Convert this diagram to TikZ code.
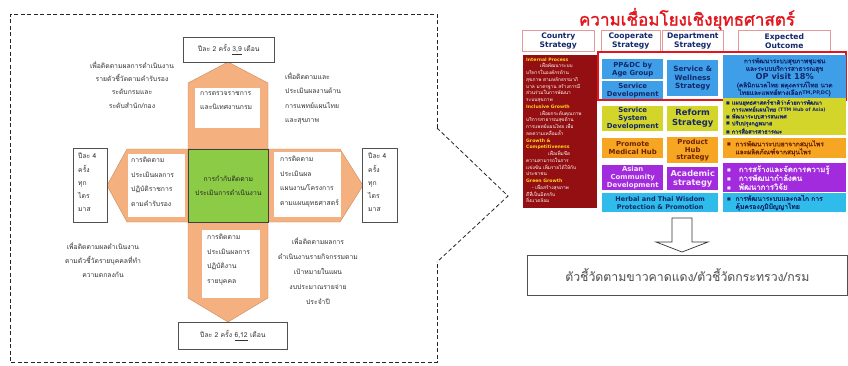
\documentclass[tikz,border=0pt]{standalone}
\usepackage{fontspec}
\newfontfamily\thai[Script=Thai, AutoFakeBold=1.6]{Loma}
\newfontfamily\lat{DejaVu Sans}
\newfontfamily\dejavu{DejaVu Sans}
\definecolor{orangefill}{HTML}{F5B07F}
\definecolor{orangeedge}{HTML}{C98B5E}
\definecolor{greenfill}{HTML}{8CCB45}
\definecolor{boxedge}{HTML}{505050}
\definecolor{hdredge}{HTML}{E39A9A}
\definecolor{darkred}{HTML}{940F12}
\definecolor{headyellow}{HTML}{FFD21F}
\definecolor{bluefill}{HTML}{3E9FE8}
\definecolor{limefill}{HTML}{D3D52A}
\definecolor{ambfill}{HTML}{F6A623}
\definecolor{purplefill}{HTML}{A22BDD}
\definecolor{cyanfill}{HTML}{2FBCEA}
\definecolor{navytext}{HTML}{13286B}
\definecolor{browntext}{HTML}{6E2200}
\definecolor{titlered}{HTML}{E3141B}
\newcommand{\bul}{{\dejavu\fontsize{4}{4}\selectfont\raisebox{0.4pt}{■}}}
\begin{document}
\begin{tikzpicture}[x=1pt,y=-1pt,
  dashline/.style={draw=black!85, line width=0.8pt, dash pattern=on 4pt off 2.5pt},
  orangeshape/.style={fill=orangefill, draw=orangeedge, line width=0.4pt},
  whitebox/.style={fill=white, draw=none, inner sep=0pt, anchor=north west},
  framebox/.style={fill=white, draw=boxedge, line width=0.7pt, inner sep=0pt, anchor=north west},
  thsmall/.style={font=\thai\fontsize{6.8}{14.5}\selectfont, text=black!80, inner sep=0pt},
  hdr/.style={fill=white, draw=hdredge, line width=0.6pt, inner sep=0pt, anchor=north west,
    align=center, text=navytext, font=\lat\bfseries\fontsize{7.6}{9}\selectfont},
  cell/.style={draw=none, inner sep=0pt, anchor=north west, align=center,
    font=\lat\bfseries\fontsize{6.9}{7.9}\selectfont},
  outc/.style={draw=none, inner sep=0pt, anchor=north west}
]
\useasboundingbox (0,0) rectangle (848,365);
\fill[white] (0,0) rectangle (848,365);

% ---------- left panel: dashed frame ----------
\coordinate (frameTR) at (437,128);
\coordinate (frameBR) at (437,262);
\coordinate (funnelTip) at (508,196);
\draw[dashline] (frameTR) -- (437,14) -- (10,14) -- (10,362) -- (437,362) -- (frameBR);
\draw[dashline] (frameTR) -- (funnelTip) -- (frameBR);

% ---------- orange arms ----------
\filldraw[orangeshape] (188,149) -- (188,83) -- (228,62) -- (268,83) -- (268,149) -- cycle;
\filldraw[orangeshape] (188,222) -- (188,298) -- (228,322) -- (268,298) -- (268,222) -- cycle;
\filldraw[orangeshape] (188,149) -- (127,149) -- (107,185.5) -- (127,222) -- (188,222) -- cycle;
\filldraw[orangeshape] (268,149) -- (340,149) -- (363,185.5) -- (340,222) -- (268,222) -- cycle;

% ---------- centre ----------
\node[fill=greenfill, draw=black!75, line width=0.7pt, minimum width=80pt, minimum height=73pt,
  inner sep=0pt, anchor=north west, align=center, font=\thai\fontsize{6.8}{14.5}\selectfont,
  text=black!85] (centre) at (188,149) {การกำกับติดตาม\\ประเมินการดำเนินงาน};

% ---------- white boxes inside the arms ----------
\node[whitebox, minimum width=65pt, minimum height=40pt] (armTop) at (195,88) {};
\node[thsmall, anchor=north west, align=left] at (200,91) {การตรวจราชการ\\และนิเทศงานกรม};
\node[whitebox, minimum width=57pt, minimum height=63pt] (armLeft) at (128,154) {};
\node[thsmall, anchor=north west, align=left] at (131,157) {การติดตาม\\ประเมินผลการ\\ปฏิบัติราชการ\\ตามคำรับรอง};
\node[whitebox, minimum width=67pt, minimum height=65pt] (armRight) at (274,152) {};
\node[thsmall, anchor=north west, align=left] at (280,156) {การติดตาม\\ประเมินผล\\แผนงาน/โครงการ\\ตามแผนยุทธศาสตร์};
\node[whitebox, minimum width=58pt, minimum height=68pt] (armBottom) at (202,230) {};
\node[thsmall, anchor=north west, align=left] at (207,234) {การติดตาม\\ประเมินผลการ\\ปฏิบัติงาน\\รายบุคคล};

% ---------- frequency boxes ----------
\node[framebox, minimum width=91pt, minimum height=25pt, font=\thai\fontsize{6.8}{8}\selectfont,
  text=black!80] (freqTop) at (183,37) {ปีละ 2 ครั้ง \underline{3,9} เดือน};
\node[framebox, minimum width=109pt, minimum height=27pt, font=\thai\fontsize{6.8}{8}\selectfont,
  text=black!80] (freqBottom) at (178,322) {ปีละ 2 ครั้ง \underline{6,12} เดือน};
\node[framebox, minimum width=34pt, minimum height=74pt] (freqLeft) at (73,148) {};
\node[thsmall, anchor=north west, align=left, font=\thai\fontsize{6.8}{13.2}\selectfont] at (78,153)
  {ปีละ 4\\ครั้ง\\ทุก\\ไตร\\มาส};
\node[framebox, minimum width=35pt, minimum height=74pt] (freqRight) at (362,148) {};
\node[thsmall, anchor=north west, align=left, font=\thai\fontsize{6.8}{13.2}\selectfont] at (368,153)
  {ปีละ 4\\ครั้ง\\ทุก\\ไตร\\มาส};

% ---------- purpose notes ----------
\node[thsmall, align=center, anchor=north, font=\thai\fontsize{6.8}{13.3}\selectfont] (noteTL) at (132,61)
  {เพื่อติดตามผลการดำเนินงาน\\รายตัวชี้วัดตามคำรับรอง\\ระดับกรมและ\\ระดับสำนัก/กอง};
\node[thsmall, align=left, anchor=north west] (noteTR) at (285,72)
  {เพื่อติดตามและ\\ประเมินผลงานด้าน\\การแพทย์แผนไทย\\และสุขภาพ};
\node[thsmall, align=center, anchor=north, font=\thai\fontsize{6.8}{14}\selectfont] (noteBL) at (103,242)
  {เพื่อติดตามผลดำเนินงาน\\ตามตัวชี้วัดรายบุคคลที่ทำ\\ความตกลงกัน};
\node[thsmall, align=center, anchor=north, font=\thai\fontsize{6.8}{15}\selectfont] (noteBR) at (318,237)
  {เพื่อติดตามผลการ\\ดำเนินงานรายกิจกรรมตาม\\เป้าหมายในแผน\\งบประมาณรายจ่าย\\ประจำปี};

% ---------- right panel ----------
\node[font=\thai\bfseries\fontsize{17}{18}\selectfont, text=titlered, inner sep=0pt] (title) at (687,19)
  {ความเชื่อมโยงเชิงยุทธศาสตร์};

\node[hdr, minimum width=72pt, minimum height=21pt] (hCountry) at (522,30) {Country\\Strategy};
\node[hdr, minimum width=59pt, minimum height=21pt] (hCoop) at (601,30) {Cooperate\\Strategy};
\node[hdr, minimum width=61pt, minimum height=21pt] (hDept) at (662,30) {Department\\Strategy};
\node[hdr, minimum width=92pt, minimum height=21pt] (hOut) at (738,30) {Expected\\Outcome};

% country strategy column
\node[fill=darkred, inner sep=0pt, anchor=north west, minimum width=74pt, minimum height=153pt] (country) at (523,55) {};
\node[anchor=north west, inner sep=0pt, align=left, text=white,
  font=\thai\fontsize{4.8}{6.75}\selectfont] at (526,57.5)
  {\textcolor{headyellow}{\lat\bfseries\fontsize{4.6}{6.75}\selectfont Internal Process}\\
   \hspace*{14pt}เพื่อพัฒนาระบบ\\
   บริหารในองค์กรด้าน\\
   สุขภาพ ตามหลักธรรมาภิ\\
   บาล มาตรฐาน สร้างการมี\\
   ส่วนร่วมในการพัฒนา\\
   ระบบสุขภาพ\\
   \textcolor{headyellow}{\lat\bfseries\fontsize{4.6}{6.75}\selectfont Inclusive Growth}\\
   \hspace*{14pt}เพื่อยกระดับคุณภาพ\\
   บริการสาธารณสุขด้าน\\
   การแพทย์แผนไทย เพื่อ\\
   ลดความเหลื่อมล้ำ\\
   \textcolor{headyellow}{\lat\bfseries\fontsize{4.6}{6.75}\selectfont Growth \&}\\
   \textcolor{headyellow}{\lat\bfseries\fontsize{4.6}{6.75}\selectfont Competitiveness}\\
   \hspace*{22pt}เพื่อเพิ่มขีด\\
   ความสามารถในการ\\
   แข่งขัน เพิ่มรายได้ให้กับ\\
   ประชาชน\\
   \textcolor{headyellow}{\lat\bfseries\fontsize{4.6}{6.75}\selectfont Green Growth}\\
   \hspace*{6pt}- เพื่อสร้างสุขภาพ\\
   ดีที่เป็นมิตรกับ\\
   สิ่งแวดล้อม};

% red frame around the first row
\draw[titlered, line width=1.4pt] (598,52) rectangle (846,100);

% row 1 (blue)
\node[cell, fill=bluefill, text=navytext, minimum width=61pt, minimum height=20pt] (ppdc) at (602,59) {PP\&DC by\\Age Group};
\node[cell, fill=bluefill, text=navytext, minimum width=61pt, minimum height=18pt] (servDev) at (602,81) {Service\\Development};
\node[cell, fill=bluefill, text=navytext, minimum width=51pt, minimum height=36pt,
  font=\lat\bfseries\fontsize{7.2}{8.6}\selectfont] (wellness) at (667,60) {Service \&\\Wellness\\Strategy};
\node[outc, fill=bluefill, minimum width=123pt, minimum height=43pt] (outBlue) at (723,55) {};
\node[align=center, text=navytext, inner sep=0pt, font=\thai\bfseries\fontsize{6.4}{7.6}\selectfont] at ([yshift=-0.5pt]outBlue.center)
  {การพัฒนาระบบสุขภาพชุมชน\\และระบบบริการสาธารณสุข\\{\lat\bfseries\fontsize{8.2}{9.4}\selectfont OP visit 18\%}\\(คลินิกนวดไทย ผดุงครรภ์ไทย นวด\\ไทยและแพทย์ทางเลือก{\lat\fontsize{5}{6}\selectfont TM,PP,DC})};

% row 2 (lime)
\node[cell, fill=limefill, text=navytext, minimum width=61pt, minimum height=25pt] (sysDev) at (602,106) {Service\\System\\Development};
\node[cell, fill=limefill, text=navytext, minimum width=51pt, minimum height=25pt,
  font=\lat\bfseries\fontsize{8.4}{10}\selectfont] (reform) at (667,106) {Reform\\Strategy};
\node[outc, fill=limefill, minimum width=123pt, minimum height=37pt] (outLime) at (723,98) {};
\node[anchor=west, align=left, text=navytext, inner sep=0pt, font=\thai\bfseries\fontsize{5.6}{6.9}\selectfont]
  at ([xshift=3pt]outLime.west)
  {\bul\ แผนยุทธศาสตร์ชาติว่าด้วยการพัฒนา\\\phantom{\bul}\ การแพทย์แผนไทย {\lat\fontsize{4.7}{6}\selectfont (TTM Hub of Asia)}\\\bul\ พัฒนาระบบสารสนเทศ\\\bul\ ปรับปรุงกฎหมาย\\\bul\ การสื่อสารสาธารณะ};

% row 3 (amber)
\node[cell, fill=ambfill, text=browntext, minimum width=61pt, minimum height=20pt] (medHub) at (602,138) {Promote\\Medical Hub};
\node[cell, fill=ambfill, text=browntext, minimum width=51pt, minimum height=26pt] (prodHub) at (667,137) {Product\\Hub\\strategy};
\node[outc, fill=ambfill, minimum width=123pt, minimum height=20pt] (outAmb) at (723,138) {};
\node[anchor=west, align=left, text=browntext, inner sep=0pt, font=\thai\bfseries\fontsize{6.6}{8}\selectfont]
  at ([xshift=4pt]outAmb.west)
  {\bul\ \ การพัฒนาระบบยาจากสมุนไพร\\\phantom{\bul}\ \ และผลิตภัณฑ์จากสมุนไพร};

% row 4 (purple)
\node[cell, fill=purplefill, text=white!88!purplefill, minimum width=61pt, minimum height=25pt] (asian) at (602,165) {Asian\\Community\\Development};
\node[cell, fill=purplefill, text=white!90!purplefill, minimum width=51pt, minimum height=23pt,
  font=\lat\bfseries\fontsize{8.2}{9.6}\selectfont] (academic) at (667,167) {Academic\\strategy};
\node[outc, fill=purplefill, minimum width=123pt, minimum height=29pt] (outPurple) at (723,163) {};
\node[anchor=west, align=left, text=white!90!purplefill, inner sep=0pt, font=\thai\bfseries\fontsize{7.8}{8.8}\selectfont]
  at ([xshift=4pt]outPurple.west)
  {\bul\ \ \ การสร้างและจัดการความรู้\\\bul\ \ \ การพัฒนากำลังคน\\\bul\ \ \ พัฒนาการวิจัย};

% row 5 (cyan)
\node[cell, fill=cyanfill, text=navytext, minimum width=116pt, minimum height=19pt,
  font=\lat\bfseries\fontsize{6.5}{7.8}\selectfont] (herbal) at (602,193) {Herbal and Thai Wisdom\\Protection \& Promotion};
\node[outc, fill=cyanfill, minimum width=123pt, minimum height=19pt] (outCyan) at (723,193) {};
\node[anchor=west, align=left, text=navytext, inner sep=0pt, font=\thai\bfseries\fontsize{6.7}{8}\selectfont]
  at ([xshift=4pt]outCyan.west)
  {\bul\ \ การพัฒนาระบบและกลไก การ\\\phantom{\bul}\ \ คุ้มครองภูมิปัญญาไทย};

% hollow down arrow and the indicator box
\draw[black!80, line width=0.7pt, fill=white] (672,218) -- (692,218) -- (692,242) -- (708,242) -- (682,252)
  -- (656,242) -- (672,242) -- cycle;
\node[framebox, minimum width=320pt, minimum height=40pt, font=\thai\fontsize{12.3}{14}\selectfont,
  text=black!70] (kpi) at (527,255) {ตัวชี้วัดตามขาวคาดแดง/ตัวชี้วัดกระทรวง/กรม};
\end{tikzpicture}
\end{document}
